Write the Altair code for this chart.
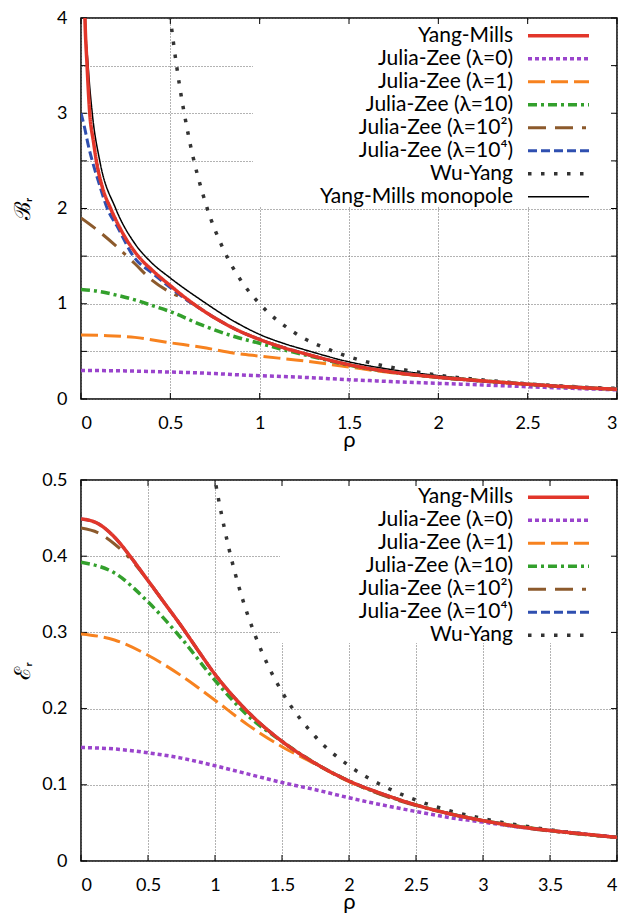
import altair as alt
import pandas as pd

# ---------------- names / styles ----------------
NAMES = ["Yang-Mills", "Julia-Zee (λ=0)", "Julia-Zee (λ=1)", "Julia-Zee (λ=10)",
         "Julia-Zee (λ=10²)", "Julia-Zee (λ=10⁴)", "Wu-Yang", "Yang-Mills monopole"]
COLORS = ["#e2362a", "#9a44cc", "#f7821f", "#33a02c", "#8c5a2c", "#2f4fb0", "#333333", "#000000"]
DASHES = [[1, 0], [4, 3], [17, 6], [9, 4, 3, 4], [18, 9, 18, 9, 4, 9], [9, 4], [3.5, 9.5], [1, 0]]
WIDTHS = [3.5, 3.5, 3.0, 3.5, 3.0, 3.0, 3.5, 1.5]

# ---------------- top panel: B_r vs rho ----------------
t_ym_rho = [0.018, 0.022, 0.034, 0.049, 0.07, 0.086, 0.12, 0.166, 0.24, 0.32, 0.4, 0.5, 0.6, 0.675, 0.75, 0.862,
            1.0, 1.14, 1.25, 1.5, 1.75, 2.0, 2.25, 2.5, 2.75, 3.0]
t_ym_B = [4.3, 4.0, 3.5, 3.0, 2.7, 2.5, 2.22, 2.0, 1.72, 1.5, 1.35, 1.19, 1.04, 0.94, 0.85, 0.735,
          0.625, 0.535, 0.477, 0.36, 0.28, 0.228, 0.19, 0.155, 0.125, 0.102]

t_j0_rho = [0, 0.25, 0.5, 0.75, 0.866, 1.0, 1.25, 1.5, 1.75, 2.0, 2.25, 2.5, 2.75, 3.0]
t_j0_B = [0.30, 0.295, 0.283, 0.267, 0.255, 0.245, 0.227, 0.203, 0.182, 0.164, 0.147, 0.129, 0.112, 0.096]

t_j1_rho = [0, 0.15, 0.302, 0.5, 0.675, 0.862, 1.0, 1.25, 1.5, 1.75, 2.0, 2.25, 2.5, 2.75, 3.0]
t_j1_B = [0.672, 0.665, 0.647, 0.59, 0.543, 0.48, 0.45, 0.40, 0.335, 0.272, 0.226, 0.19, 0.155, 0.125, 0.102]

t_j10_rho = [0, 0.1, 0.2, 0.302, 0.4, 0.5, 0.675, 0.862, 1.0, 1.14, 1.25, 1.5, 1.75, 2.0, 2.25, 2.5, 2.75, 3.0]
t_j10_B = [1.15, 1.13, 1.09, 1.04, 0.98, 0.917, 0.777, 0.654, 0.585, 0.514, 0.465, 0.355, 0.28, 0.228, 0.19,
           0.155, 0.125, 0.102]

t_j100_rho = [0, 0.1, 0.194, 0.302, 0.395, 0.49, 0.6, 0.675, 0.75, 0.862, 1.0, 1.25, 1.5, 2.0, 2.5, 3.0]
t_j100_B = [1.90, 1.76, 1.61, 1.42, 1.25, 1.13, 1.03, 0.94, 0.85, 0.735, 0.625, 0.477, 0.36, 0.228, 0.155, 0.102]

t_j10k_rho = [0, 0.02, 0.04, 0.063, 0.1, 0.147, 0.2, 0.3, 0.4, 0.5, 0.6, 0.675, 0.75, 0.862, 1.0, 1.25, 1.5,
              2.0, 2.5, 3.0]
t_j10k_B = [3.0, 2.85, 2.67, 2.5, 2.27, 2.0, 1.82, 1.48, 1.32, 1.17, 1.03, 0.94, 0.85, 0.735, 0.625, 0.477, 0.36,
            0.228, 0.155, 0.102]

t_wy_rho = [0.49, 0.5, 0.55, 0.6, 0.7, 0.8, 0.9, 1.0, 1.2, 1.4, 1.6, 1.8, 2.0, 2.25, 2.5, 2.75, 3.0]
t_wy_B = [4.16, 4.0, 3.31, 2.78, 2.04, 1.56, 1.23, 1.0, 0.69, 0.51, 0.39, 0.31, 0.25, 0.2, 0.16, 0.13, 0.111]

t_mp_rho = [0.02, 0.025, 0.04, 0.063, 0.105, 0.194, 0.302, 0.39, 0.5, 0.675, 0.862, 1.0, 1.14, 1.25, 1.5, 1.75,
            2.0, 2.5, 3.0]
t_mp_B = [4.4, 4.0, 3.5, 3.0, 2.5, 2.0, 1.63, 1.44, 1.27, 1.035, 0.81, 0.678, 0.58, 0.518, 0.39, 0.305,
          0.245, 0.16, 0.108]

# ---------------- bottom panel: E_r vs rho ----------------
b_ym_rho = [0, 0.125, 0.25, 0.375, 0.5, 0.625, 0.75, 0.875, 1.0, 1.25, 1.5, 1.75, 2.0, 2.25, 2.5, 2.75,
            3.0, 3.25, 3.5, 3.75, 4.0]
b_ym_E = [0.449, 0.443, 0.425, 0.398, 0.368, 0.338, 0.308, 0.276, 0.245, 0.195, 0.157, 0.128, 0.105,
          0.088, 0.0735, 0.062, 0.053, 0.0455, 0.040, 0.0355, 0.031]

b_j0_rho = [0, 0.25, 0.5, 0.75, 1.0, 1.25, 1.5, 1.75, 2.0, 2.25, 2.5, 2.75, 3.0, 3.25, 3.5, 3.75, 4.0]
b_j0_E = [0.149, 0.147, 0.142, 0.135, 0.125, 0.114, 0.103, 0.0935, 0.083, 0.0735, 0.065, 0.057, 0.051, 0.045,
          0.040, 0.0355, 0.031]

b_j1_rho = [0, 0.25, 0.5, 0.75, 1.0, 1.25, 1.5, 1.75, 2.0, 2.25, 2.5, 2.75, 3.0, 3.5, 4.0]
b_j1_E = [0.298, 0.29, 0.27, 0.243, 0.211, 0.178, 0.150, 0.127, 0.104, 0.088, 0.0735, 0.062, 0.053, 0.040, 0.031]

b_j10_rho = [0, 0.25, 0.5, 0.75, 1.0, 1.25, 1.5, 1.75, 2.0, 2.5, 3.0, 3.5, 4.0]
b_j10_E = [0.392, 0.378, 0.340, 0.292, 0.237, 0.19, 0.157, 0.128, 0.105, 0.0735, 0.053, 0.040, 0.031]

b_j100_rho = [0, 0.125, 0.25, 0.375, 0.5, 0.625, 0.75, 1.0, 1.25, 1.5, 2.0, 3.0, 4.0]
b_j100_E = [0.437, 0.431, 0.416, 0.395, 0.368, 0.338, 0.308, 0.245, 0.195, 0.157, 0.105, 0.053, 0.031]

b_j10k_rho = b_ym_rho
b_j10k_E = b_ym_E

b_wy_rho = [0.99, 1.0, 1.1, 1.2, 1.3, 1.4, 1.5, 1.75, 2.0, 2.25, 2.5, 2.75, 3.0, 3.5, 4.0]
b_wy_E = [0.51, 0.5, 0.413, 0.347, 0.296, 0.255, 0.222, 0.163, 0.125, 0.099, 0.08, 0.066, 0.0556, 0.041, 0.031]

FONT = "Lato"
TICK = 6


def panel(series_list, names, xdom, ydom, xvals, yvals, ylabelexpr, ytitle, box, leg_y0, w, h):
    xscale = alt.Scale(domain=xdom, nice=False, zero=False)
    yscale = alt.Scale(domain=ydom, nice=False, zero=False)
    xaxis = alt.Axis(values=xvals, format="~g", title="ρ", grid=True, ticks=False,
                     labelPadding=15, titlePadding=-3)
    yaxis = alt.Axis(values=yvals, labelExpr=ylabelexpr, title=ytitle, grid=True, ticks=False,
                     labelPadding=14, titlePadding=3, minExtent=44, maxExtent=44)

    layers = []
    for name, xs, ys in series_list:
        i = NAMES.index(name)
        df = pd.DataFrame({"rho": xs, "val": ys})
        layers.append(alt.Chart(df).mark_line(
            clip=True, interpolate="monotone", color=COLORS[i], strokeDash=DASHES[i],
            strokeWidth=WIDTHS[i]).encode(
            x=alt.X("rho:Q", scale=xscale, axis=xaxis),
            y=alt.Y("val:Q", scale=yscale, axis=yaxis)))
    # opaque legend background (drawn above grid, below curves)
    bg = alt.Chart(pd.DataFrame({"a": [0]})).mark_rect(color="white").encode(
        x=alt.value(box[0]), x2=alt.value(box[1]), y=alt.value(box[2]), y2=alt.value(box[3]))

    # inward ticks on all four sides (gnuplot style)
    xt = alt.Chart(pd.DataFrame({"v": xvals}))
    yt = alt.Chart(pd.DataFrame({"v": yvals}))
    tick_layers = [
        xt.mark_rule(color="black", strokeWidth=1).encode(
            x=alt.X("v:Q", scale=xscale, axis=xaxis), y=alt.value(h), y2=alt.value(h - TICK)),
        xt.mark_rule(color="black", strokeWidth=1).encode(
            x=alt.X("v:Q", scale=xscale, axis=xaxis), y=alt.value(0), y2=alt.value(TICK)),
        yt.mark_rule(color="black", strokeWidth=1).encode(
            y=alt.Y("v:Q", scale=yscale, axis=yaxis), x=alt.value(0), x2=alt.value(TICK)),
        yt.mark_rule(color="black", strokeWidth=1).encode(
            y=alt.Y("v:Q", scale=yscale, axis=yaxis), x=alt.value(w), x2=alt.value(w - TICK)),
    ]
    curves = alt.layer(bg, *tick_layers, *layers)

    leg_df = pd.DataFrame({"series": names, "row": list(range(len(names)))})
    leg_base = alt.Chart(leg_df).transform_calculate(py=f"{leg_y0} + datum.row * 23")
    leg_text = leg_base.mark_text(align="right", baseline="middle", font=FONT, fontSize=21,
                                  color="black").encode(
        x=alt.value(432), y=alt.Y("py:Q", scale=None, axis=None), text="series:N")
    leg_layers = [leg_text]
    for name in names:
        i = NAMES.index(name)
        leg_layers.append(leg_base.transform_filter(alt.datum.series == name).mark_rule(
            color=COLORS[i], strokeDash=DASHES[i], strokeWidth=WIDTHS[i]).encode(
            x=alt.value(447), x2=alt.value(508), y=alt.Y("py:Q", scale=None, axis=None)))
    legend = alt.layer(*leg_layers)
    return alt.layer(curves, legend).resolve_scale(y="independent").properties(width=w, height=h)


top_names = NAMES
top_series = [
    ("Yang-Mills monopole", t_mp_rho, t_mp_B),
    ("Wu-Yang", t_wy_rho, t_wy_B),
    ("Julia-Zee (λ=0)", t_j0_rho, t_j0_B),
    ("Julia-Zee (λ=1)", t_j1_rho, t_j1_B),
    ("Julia-Zee (λ=10)", t_j10_rho, t_j10_B),
    ("Julia-Zee (λ=10²)", t_j100_rho, t_j100_B),
    ("Julia-Zee (λ=10⁴)", t_j10k_rho, t_j10k_B),
    ("Yang-Mills", t_ym_rho, t_ym_B),
]
bot_names = NAMES[:7]
bot_series = [
    ("Wu-Yang", b_wy_rho, b_wy_E),
    ("Julia-Zee (λ=0)", b_j0_rho, b_j0_E),
    ("Julia-Zee (λ=1)", b_j1_rho, b_j1_E),
    ("Julia-Zee (λ=10)", b_j10_rho, b_j10_E),
    ("Julia-Zee (λ=10²)", b_j100_rho, b_j100_E),
    ("Julia-Zee (λ=10⁴)", b_j10k_rho, b_j10k_E),
    ("Yang-Mills", b_ym_rho, b_ym_E),
]

top = panel(top_series, top_names, [0, 3], [0, 4],
            [0, 0.5, 1, 1.5, 2, 2.5, 3], [0, 0.5, 1, 1.5, 2, 2.5, 3, 3.5, 4],
            "datum.value % 1 == 0 ? format(datum.value, '~g') : ''", "ℬᵣ", (172, 534, 2, 189), 17.7, 536, 381)
bottom = panel(bot_series, bot_names, [0, 4], [0, 0.5],
               [0, 0.5, 1, 1.5, 2, 2.5, 3, 3.5, 4], [0, 0.1, 0.2, 0.3, 0.4, 0.5],
               "format(datum.value, '~g')", "ℰᵣ", (199, 534, 2, 163), 17.3, 536, 381)

chart = alt.vconcat(top, bottom, spacing=19).properties(
    padding={"left": 2, "top": 0, "right": 0, "bottom": 0}, background="white"
).configure_view(stroke="black", strokeWidth=1.5).configure_axis(
    domain=False, gridColor="#666666", gridDash=[1, 2], gridWidth=1, gridOpacity=1,
    labelFont=FONT, labelFontSize=18, labelColor="black", titleFont=FONT, titleFontSize=22,
    titleFontWeight="normal", titleColor="black",
)

chart.save("out.html", embed_options={"renderer": "svg", "actions": False})
